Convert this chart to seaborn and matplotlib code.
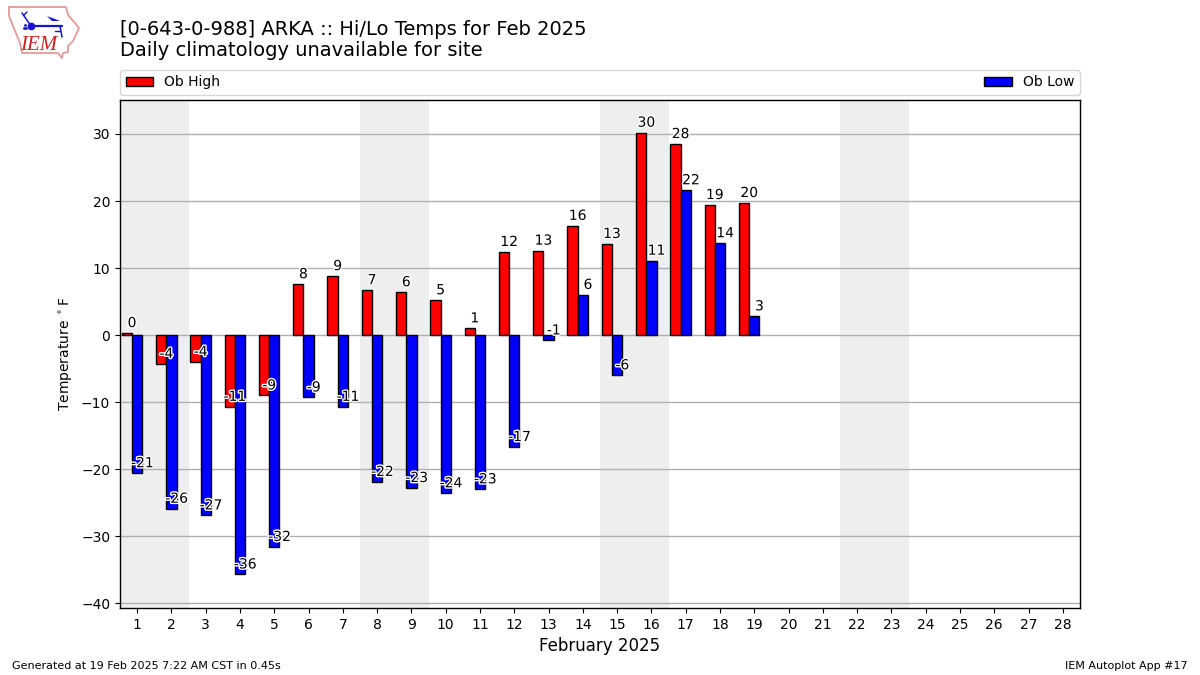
import matplotlib
matplotlib.use('Agg')
import matplotlib.pyplot as plt
import matplotlib.patheffects as PathEffects
from matplotlib.patches import Patch
import numpy as np
import seaborn as sns

sns.set_theme(style="ticks", rc={'axes.linewidth': 1.0, 'xtick.color': 'black', 'ytick.color': 'black'})
plt.rcParams['font.family'] = ['DejaVu Sans']

# Daily values
days = np.arange(1, 29)
obs_days = np.arange(1, 20)
highs = np.array([0.3, -4.3, -4.0, -10.7, -9.0, 7.6, 8.8, 6.7, 6.4, 5.2, 1.0, 12.4, 12.6, 16.3, 13.6, 30.2, 28.5, 19.4, 19.7])
lows = np.array([-20.6, -25.9, -26.9, -35.7, -31.6, -9.3, -10.7, -21.9, -22.8, -23.6, -23.0, -16.7, -0.8, 6.0, -6.0, 11.1, 21.6, 13.7, 2.8])
high_labels = [0, -4, -4, -11, -9, 8, 9, 7, 6, 5, 1, 12, 13, 16, 13, 30, 28, 19, 20]
low_labels = [-21, -26, -27, -36, -32, -9, -11, -22, -23, -24, -23, -17, -1, 6, -6, 11, 22, 14, 3]
weekends = [(0.5, 2.5), (7.5, 9.5), (14.5, 16.5), (21.5, 23.5)]
y_ticks = [-40, -30, -20, -10, 0, 10, 20, 30]

title_lines = ["[0-643-0-988] ARKA :: Hi/Lo Temps for Feb 2025", "Daily climatology unavailable for site"]

fig = plt.figure(figsize=(12, 6.75), dpi=100)
ax = fig.add_axes([120 / 1200, 1 - 608 / 675, 960 / 1200, 508 / 675])

# weekend shading and grid sit under the bars
for start, end in weekends:
    ax.axvspan(start, end, color='#eeeeee', lw=0, zorder=0)
ax.set_axisbelow(True)
ax.grid(True, axis='y', color='#b0b0b0', linewidth=1.0)

sns.barplot(x=obs_days - 0.3, y=highs, native_scale=True, width=0.3, color='red', saturation=1,
            edgecolor='black', linewidth=1.0, ax=ax, zorder=3)
sns.barplot(x=obs_days.astype(float), y=lows, native_scale=True, width=0.3, color='blue', saturation=1,
            edgecolor='black', linewidth=1.0, ax=ax, zorder=3)

# labels on top of the bars, with a white halo
for day, val, label in zip(obs_days, highs, high_labels):
    t = ax.text(day - 0.15, val + 0.45, str(label), ha='center', va='bottom', fontsize=10, color='black', zorder=5)
    t.set_path_effects([PathEffects.withStroke(linewidth=2, foreground='white')])
for day, val, label in zip(obs_days, lows, low_labels):
    t = ax.text(day + 0.15, val + 0.45, str(label), ha='center', va='bottom', fontsize=10, color='black', zorder=5)
    t.set_path_effects([PathEffects.withStroke(linewidth=2, foreground='white')])

ax.set_xlim(0.5, 28.5)
ax.set_ylim(-40.7, 35.07)
ax.set_xticks(days)
ax.set_xticklabels([str(d) for d in days])
ax.set_yticks(y_ticks)
ax.tick_params(axis='both', labelsize=10, length=3.5, width=0.8, color='black', labelcolor='black')
ax.set_xlabel("February 2025", fontsize=12, color='black')
ax.set_ylabel("Temperature $^\\circ$F", fontsize=10, color='black')
for spine in ax.spines.values():
    spine.set_visible(True)
    spine.set_color('black')

handles = [Patch(facecolor='red', edgecolor='black', label='Ob High'),
           Patch(facecolor='blue', edgecolor='black', label='Ob Low')]
ax.legend(handles=handles, ncol=2, mode='expand', loc='lower left', bbox_to_anchor=(0, 1.0098, 1, 0.05),
          borderaxespad=0, fontsize=10, frameon=True, fancybox=True, framealpha=0.8, edgecolor='#cccccc', labelcolor='black')

fig.text(120 / 1200, 1 - 29.5 / 675, title_lines[0], fontsize=14, color='black', va='center')
fig.text(120 / 1200, 1 - 51 / 675, title_lines[1], fontsize=14, color='black', va='center')
fig.text(12 / 1200, 1 - 666 / 675, "Generated at 19 Feb 2025 7:22 AM CST in 0.45s", fontsize=8, color='black', va='center')
fig.text(1188 / 1200, 1 - 666 / 675, "IEM Autoplot App #17", fontsize=8, color='black', va='center', ha='right')

# rough logo: state outline, station symbol, IEM text
logo = fig.add_axes([0, 1 - 60 / 675, 85 / 1200, 60 / 675])
logo.set_xlim(0, 85)
logo.set_ylim(60, 0)
logo.axis('off')
outline_x = [9, 66, 68, 75, 79, 73, 68, 68, 63, 62, 58, 22, 20, 13, 9, 9]
outline_y = [7, 7, 15, 23, 28, 41, 46, 52, 53, 58, 53, 53, 43, 26, 16, 7]
logo.plot(outline_x, outline_y, color='#e59a9a', lw=1.3)
station = '#1414cc'
logo.plot([31, 62], [26, 26], color=station, lw=1.6)
logo.plot([31], [26], 'o', color=station, ms=4.5)
logo.plot([31, 22], [26, 13], color=station, lw=1.1)
logo.plot([24, 27], [15, 12], color=station, lw=1)
logo.fill([47, 60, 52], [16, 21, 21], color=station, lw=0)
logo.plot([60, 62], [26, 37], color=station, lw=1.1)
logo.plot([55, 60], [31, 31], color=station, lw=1)
logo.plot([24, 25, 26], [28, 25, 28], '.', color=station, ms=2)
logo.text(20, 45.5, "IEM", fontsize=15, family='Liberation Serif', style='italic', color='#d02020', va='center')

fig.savefig('out.png', dpi=100)
